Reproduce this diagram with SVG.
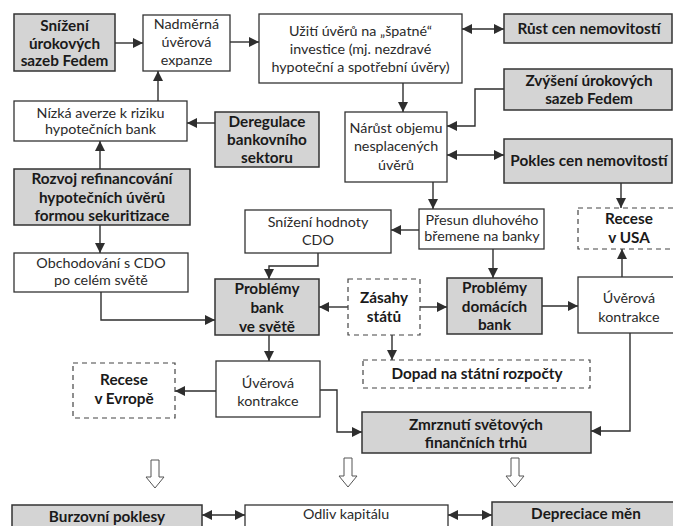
<svg xmlns="http://www.w3.org/2000/svg" width="673" height="526" viewBox="0 0 673 526">
  <defs>
    <marker id="ah" viewBox="0 0 10 10" refX="10" refY="5" markerWidth="11" markerHeight="10" markerUnits="userSpaceOnUse" orient="auto-start-reverse">
      <path d="M0,0 L10,5 L0,10 Z" fill="#2e2e2e"/>
    </marker>
    <style>
      .box { fill: #fff; stroke: #333; stroke-width: 1.3; }
      .gray { fill: #d4d4d4; stroke: #333; stroke-width: 1.5; }
      .dash { fill: #fff; stroke: #444; stroke-width: 1.2; stroke-dasharray: 5 4; }
      .t { font-family: Lato, "Open Sans", "DejaVu Sans", sans-serif; font-size: 14.3px; fill: #2a2a2a; text-anchor: middle; }
      .b { font-family: Lato, "Open Sans", "DejaVu Sans", sans-serif; font-size: 15.3px; font-weight: bold; fill: #1a1a1a; text-anchor: middle; }
      .c { fill: none; stroke: #2e2e2e; stroke-width: 1.4; }
      .a { marker-end: url(#ah); }
      .aa { marker-start: url(#ah); marker-end: url(#ah); }
      .hollow { fill: #fff; stroke: #555; stroke-width: 1; }
    </style>
  </defs>
  <rect width="673" height="526" fill="#fff"/>

  <!-- connectors -->
  <g id="connectors">
    <path class="c a" d="M115,43 H143"/>
    <path class="c a" d="M230,42 H259"/>
    <path class="c aa" d="M462,29 H504"/>
    <path class="c a" d="M158,101 V71"/>
    <path class="c a" d="M215,123 H187"/>
    <path class="c a" d="M100,169 V141"/>
    <path class="c a" d="M100,225 V253"/>
    <path class="c a" d="M101,292 V320 H215"/>
    <path class="c a" d="M403,83 V112"/>
    <path class="c a" d="M504,89 H475 V126 H447"/>
    <path class="c aa" d="M447,155 H504"/>
    <path class="c a" d="M433,182 V209"/>
    <path class="c a" d="M621,183 V208"/>
    <path class="c a" d="M419,230 H391"/>
    <path class="c a" d="M318,253 V266 H269 V279"/>
    <path class="c a" d="M493,249 V278"/>
    <path class="c a" d="M348,307 H319"/>
    <path class="c a" d="M420,307 H447"/>
    <path class="c a" d="M392,335 V360"/>
    <path class="c a" d="M542,306 H578"/>
    <path class="c a" d="M622,277 V249"/>
    <path class="c a" d="M269,335 V361"/>
    <path class="c a" d="M216,391 H175"/>
    <path class="c a" d="M320,390 H337 V432 H362"/>
    <path class="c a" d="M630,333 V431 H591"/>
    <path class="c aa" d="M202,515 H245"/>
    <path class="c aa" d="M448,515 H492"/>
    <!-- hollow flow arrows -->
    <path class="hollow" d="M151,460 H159 V477 H164 L155,488 L146,477 H151 Z"/>
    <path class="hollow" d="M344,458 H352 V476 H357 L348,487 L339,476 H344 Z"/>
    <path class="hollow" d="M511,458 H519 V476 H524 L515,487 L506,476 H511 Z"/>
  </g>

  <g id="snizeni-sazeb">
    <rect class="gray" x="14" y="14" width="101" height="57"/>
    <text class="b" x="64.5" y="31">Snížení</text>
    <text class="b" x="64.5" y="48.5">úrokových</text>
    <text class="b" x="64.5" y="66">sazeb Fedem</text>
  </g>
  <g id="nadmerna-expanze">
    <rect class="box" x="143" y="15" width="87" height="56"/>
    <text class="t" x="186.5" y="29">Nadměrná</text>
    <text class="t" x="186.5" y="47">úvěrová</text>
    <text class="t" x="186.5" y="65">expanze</text>
  </g>
  <g id="uziti-uveru">
    <rect class="box" x="259" y="14" width="203" height="69"/>
    <text class="t" x="360.5" y="36">Užití úvěrů na „špatné“</text>
    <text class="t" x="360.5" y="54">investice (mj. nezdravé</text>
    <text class="t" x="360.5" y="72">hypoteční a spotřební úvěry)</text>
  </g>
  <g id="rust-cen">
    <rect class="gray" x="504" y="14" width="168" height="29"/>
    <text class="b" x="589" y="34">Růst cen nemovitostí</text>
  </g>
  <g id="zvyseni-sazeb">
    <rect class="gray" x="504" y="69" width="168" height="41"/>
    <text class="b" x="589" y="86">Zvýšení úrokových</text>
    <text class="b" x="589" y="104">sazeb Fedem</text>
  </g>
  <g id="nizka-averze">
    <rect class="box" x="14" y="101" width="173" height="40"/>
    <text class="t" x="100.5" y="118">Nízká averze k riziku</text>
    <text class="t" x="100.5" y="134">hypotečních bank</text>
  </g>
  <g id="deregulace">
    <rect class="gray" x="215" y="112" width="104" height="55"/>
    <text class="b" x="267" y="127">Deregulace</text>
    <text class="b" x="267" y="145">bankovního</text>
    <text class="b" x="267" y="163">sektoru</text>
  </g>
  <g id="narust-objemu">
    <rect class="box" x="345" y="112" width="102" height="70"/>
    <text class="t" x="396" y="133">Nárůst objemu</text>
    <text class="t" x="396" y="151">nesplacených</text>
    <text class="t" x="396" y="170">úvěrů</text>
  </g>
  <g id="pokles-cen">
    <rect class="gray" x="504" y="139" width="168" height="44"/>
    <text class="b" x="589" y="166">Pokles cen nemovitostí</text>
  </g>
  <g id="rozvoj-refinancovani">
    <rect class="gray" x="14" y="169" width="176" height="56"/>
    <text class="b" x="102" y="184">Rozvoj refinancování</text>
    <text class="b" x="102" y="203">hypotečních úvěrů</text>
    <text class="b" x="102" y="221">formou sekuritizace</text>
  </g>
  <g id="obchodovani-cdo">
    <rect class="box" x="14" y="253" width="174" height="39"/>
    <text class="t" x="101" y="268">Obchodování s CDO</text>
    <text class="t" x="101" y="285">po celém světě</text>
  </g>
  <g id="snizeni-hodnoty">
    <rect class="box" x="245" y="210" width="146" height="43"/>
    <text class="t" x="318" y="227">Snížení hodnoty</text>
    <text class="t" x="318" y="245">CDO</text>
  </g>
  <g id="presun-bremene">
    <rect class="box" x="419" y="209" width="125" height="40"/>
    <text class="t" x="482" y="225">Přesun dluhového</text>
    <text class="t" x="482" y="241">břemene na banky</text>
  </g>
  <g id="recese-usa">
    <rect class="dash" x="578" y="208" width="102" height="41"/>
    <text class="b" x="629" y="224">Recese</text>
    <text class="b" x="629" y="243">v USA</text>
  </g>
  <g id="problemy-bank-svet">
    <rect class="gray" x="215" y="279" width="104" height="56"/>
    <text class="b" x="267" y="294">Problémy</text>
    <text class="b" x="267" y="313">bank</text>
    <text class="b" x="267" y="332">ve světě</text>
  </g>
  <g id="zasahy-statu">
    <rect class="dash" x="348" y="279" width="72" height="56"/>
    <text class="b" x="384" y="303">Zásahy</text>
    <text class="b" x="384" y="322">států</text>
  </g>
  <g id="problemy-domacich">
    <rect class="gray" x="447" y="278" width="95" height="56"/>
    <text class="b" x="494.5" y="293">Problémy</text>
    <text class="b" x="494.5" y="312">domácích</text>
    <text class="b" x="494.5" y="330">bank</text>
  </g>
  <g id="uverova-kontrakce-usa">
    <rect class="box" x="578" y="277" width="102" height="56"/>
    <text class="t" x="629" y="303">Úvěrová</text>
    <text class="t" x="629" y="322">kontrakce</text>
  </g>
  <g id="dopad-rozpocty">
    <rect class="dash" x="363" y="360" width="227" height="28"/>
    <text class="b" x="477" y="379">Dopad na státní rozpočty</text>
  </g>
  <g id="recese-evropa">
    <rect class="dash" x="73" y="363" width="102" height="55"/>
    <text class="b" x="124" y="385">Recese</text>
    <text class="b" x="124" y="404">v Evropě</text>
  </g>
  <g id="uverova-kontrakce-svet">
    <rect class="box" x="216" y="361" width="104" height="56"/>
    <text class="t" x="268" y="388">Úvěrová</text>
    <text class="t" x="268" y="406">kontrakce</text>
  </g>
  <g id="zmrznuti-trhu">
    <rect class="gray" x="362" y="412" width="229" height="41"/>
    <text class="b" x="476" y="430">Zmrznutí světových</text>
    <text class="b" x="476" y="448">finančních trhů</text>
  </g>
  <g id="burzovni-poklesy">
    <rect class="gray" x="12" y="505" width="190" height="30"/>
    <text class="b" x="107" y="522">Burzovní poklesy</text>
  </g>
  <g id="odliv-kapitalu">
    <rect class="box" x="245" y="505" width="203" height="30"/>
    <text class="t" x="346" y="519">Odliv kapitálu</text>
  </g>
  <g id="depreciace-men">
    <rect class="gray" x="492" y="502" width="188" height="33"/>
    <text class="b" x="586" y="519">Depreciace měn</text>
  </g>
</svg>
